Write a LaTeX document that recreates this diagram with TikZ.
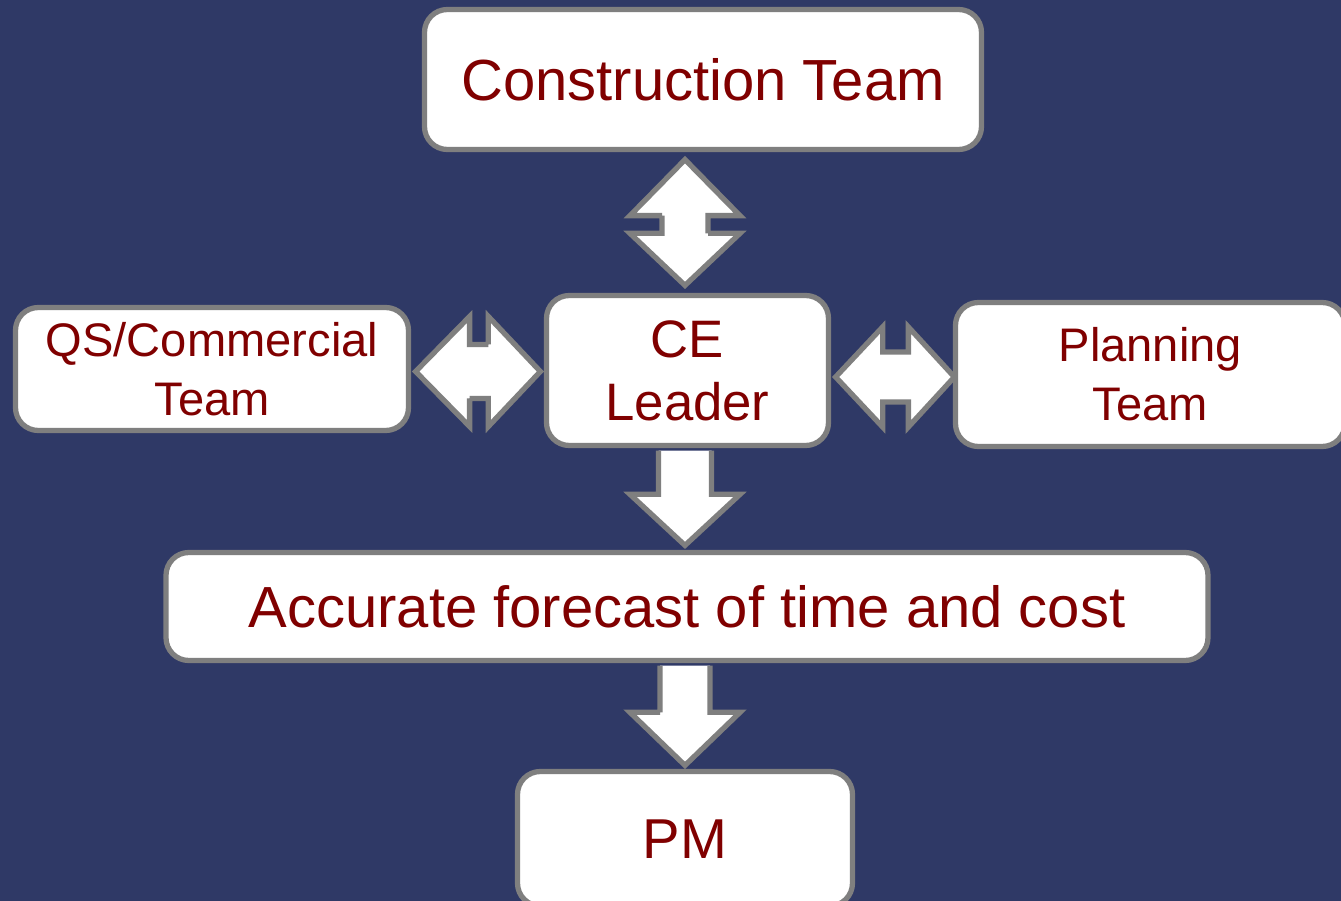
\documentclass[tikz,border=0pt]{standalone}
\usepackage{fontspec}
\setmainfont{Liberation Sans}
\usetikzlibrary{calc}

\definecolor{bgblue}{RGB}{47,57,102}
\definecolor{boxgray}{RGB}{127,127,127}
\definecolor{textred}{RGB}{128,0,0}

\begin{document}
\begin{tikzpicture}[
	team/.style={draw=boxgray, line width=1.5pt, fill=white, rounded corners=6.5pt, text=textred, align=center, inner sep=0pt},
	blockarrow/.style={draw=boxgray, line width=1.5pt, fill=white, line join=miter}
]

			\fill[bgblue] (0,0) rectangle (13.41,-9.01);
			\useasboundingbox (0,0) rectangle (13.41,-9.01);

			\node[team, minimum width=5.57cm, minimum height=1.40cm, font=\fontsize{16.5}{19.8}\selectfont] (ct) at (7.03,-0.795) {Construction Team};

			\node[team, minimum width=2.82cm, minimum height=1.50cm, font=\fontsize{15}{17.9}\selectfont] (ce) at (6.875,-3.705) {CE\\Leader};

			\node[team, minimum width=3.93cm, minimum height=1.23cm, font=\fontsize{13.4}{16.7}\selectfont] (qs) at (2.12,-3.69) {QS/Commercial\\Team};
			\node[team, minimum width=3.895cm, minimum height=1.44cm, font=\fontsize{13.4}{16.7}\selectfont] (pl) at (11.5025,-3.745) {Planning\\Team};

			\node[team, minimum width=10.42cm, minimum height=1.08cm, font=\fontsize{16.5}{19.8}\selectfont] (fc) at (6.87,-6.065) {Accurate forecast of time and cost};

			\node[team, minimum width=3.35cm, minimum height=1.345cm, font=\fontsize{16}{19.2}\selectfont] (pm) at (6.85,-8.3875) {PM};

			\coordinate (ctce1) at ($(ct.south -| ce.north)+(-0.025,-0.075)$);
			\coordinate (ctce2) at ($(ce.north)+(-0.025,0.075)$);
			\draw[blockarrow] (ctce1) -- ++(0.55,-0.56) -- ++(-0.32,0) |- ($(ctce2)+(0.23,0.52)$) -- ++(0.32,0) -- (ctce2) -- ++(-0.55,0.52) -- ++(0.32,0) |- ($(ctce1)+(-0.23,-0.56)$) -- ++(-0.32,0) -- cycle;

			\coordinate (qsce1) at ($(qs.east |- ce.west)+(0.045,-0.01)$);
			\coordinate (qsce2) at ($(ce.west)+(-0.035,-0.01)$);
			\draw[blockarrow] (qsce1) -- ++(0.54,0.55) -- ++(0,-0.28) -| ($(qsce2)+(-0.52,0.27)$) -- ++(0,0.28) -- (qsce2) -- ++(-0.52,-0.55) -- ++(0,0.28) -| ($(qsce1)+(0.54,-0.27)$) -- ++(0,-0.28) -- cycle;

			\coordinate (cepl1) at ($(ce.east)+(0.045,-0.065)$);
			\coordinate (cepl2) at ($(pl.west)+(0.015,-0.025)$);
			\draw[blockarrow] (cepl1) -- ++(0.47,0.5) -- ++(0,-0.25) -| ($(cepl2)+(-0.46,0.25)$) -- ++(0,0.25) -- (cepl2) -- ++(-0.46,-0.5) -- ++(0,0.25) -| ($(cepl1)+(0.47,-0.25)$) -- ++(0,-0.25) -- cycle;

			\coordinate (cefc1) at ($(ce.south)+(-0.025,-0.025)$);
			\coordinate (cefc2) at ($(fc.north)+(-0.02,0.045)$);
			\draw[blockarrow] ($(cefc1)+(-0.265,0)$) |- ($(cefc2)+(-0.265,0.51)$) -- ++(-0.285,0) -- (cefc2) -- ++(0.55,0.51) -- ++(-0.285,0) -- ($(cefc1)+(0.265,0)$);

			\coordinate (fcpm1) at ($(fc.south)+(-0.02,-0.025)$);
			\coordinate (fcpm2) at ($(pm.north)+(0,0.035)$);
			\draw[blockarrow] ($(fcpm1)+(-0.25,0)$) |- ($(fcpm2)+(-0.25,0.53)$) -- ++(-0.3,0) -- (fcpm2) -- ++(0.55,0.53) -- ++(-0.3,0) -- ($(fcpm1)+(0.25,0)$);

\end{tikzpicture}
\end{document}
